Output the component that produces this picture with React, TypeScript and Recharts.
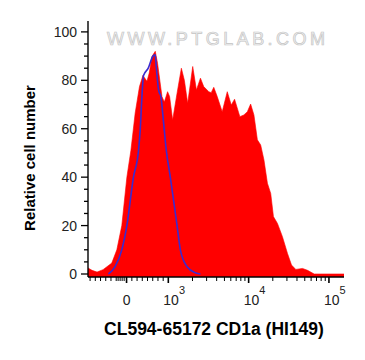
import React from 'react';
import { ComposedChart, Area, Line, XAxis, YAxis, Customized } from 'recharts';

// x values are in display (biexponential) units: 3 = 10^3, 4 = 10^4, 5 = 10^5
const RED_X = [2.0, 2.05, 2.1125, 2.1875, 2.296, 2.359, 2.421, 2.484, 2.534, 2.5875, 2.641, 2.684, 2.734, 2.7625, 2.796, 2.8375, 2.866, 2.921, 2.95, 2.991, 3.016, 3.054, 3.109, 3.1625, 3.2, 3.241, 3.304, 3.35, 3.4, 3.441, 3.504, 3.534, 3.566, 3.609, 3.671, 3.734, 3.784, 3.825, 3.891, 3.941, 3.984, 4.025, 4.066, 4.109, 4.15, 4.191, 4.234, 4.275, 4.309, 4.359, 4.421, 4.484, 4.534, 4.5875, 4.671, 4.734, 4.816, 4.9, 5.1875];
const RED_Y = [2.5, 1.5, 0.8, 1.8, 4.5, 10, 20, 40, 51, 66.5, 77.4, 82, 79.6, 83, 89.8, 92, 87, 73.3, 71, 75.3, 73.3, 63.6, 74.7, 85, 80, 70.5, 85.7, 76, 80.9, 77.4, 75.3, 74.9, 77.1, 73.3, 67, 75.3, 69.8, 72.2, 65, 65.7, 67, 70.2, 65.7, 55.4, 53.3, 47.1, 37.5, 33.3, 23.7, 20.9, 15.4, 8.5, 3.7, 1.9, 2.3, 1.5, 0, 0, 0];

const BLUE_X = [2.254, 2.3375, 2.421, 2.484, 2.566, 2.629, 2.65, 2.671, 2.691, 2.75, 2.809, 2.8375, 2.85, 2.879, 2.909, 2.934, 2.975, 3.025, 3.109, 3.15, 3.234, 3.3375, 3.4];
const BLUE_Y = [0, 3, 10, 20, 40, 51, 59.5, 73, 82, 85, 90, 90.5, 85.5, 76, 73, 65, 51, 40, 20, 10, 3, 0.5, 0];

const X_MIN = 2.0;
const X_MAX = 5.1875;
const Y_MIN = -1.24;
const Y_MAX = 104.5;

const Y_MAJOR = [0, 20, 40, 60, 80, 100];
const Y_MINOR = [5, 10, 15, 25, 30, 35, 45, 50, 55, 65, 70, 75, 85, 90, 95];

const X_MAJOR = [2.48, 3, 4, 5];
const X_MAJOR_LABELS = ['0', '10', '10', '10'];
const X_MAJOR_EXP = ['', '3', '4', '5'];
const X_MINOR = [2.026, 2.091, 2.156, 2.221, 2.286, 2.351, 2.375, 2.4, 2.425, 2.45, 2.546, 2.611, 2.676, 2.741, 2.806, 2.871, 2.936,
  3.301, 3.477, 3.602, 3.699, 3.778, 3.845, 3.903, 3.954,
  4.301, 4.477, 4.602, 4.699, 4.778, 4.845, 4.903, 4.954];

const X_TITLE = 'CL594-65172 CD1a (HI149)';
const Y_TITLE = 'Relative cell number';
const WATERMARK = 'WWW.PTGLAB.COM';

const rowMap = new Map<number, any>();
RED_X.forEach((x, i) => {
  const r = rowMap.get(x) || { x };
  r.red = RED_Y[i];
  rowMap.set(x, r);
});
BLUE_X.forEach((x, i) => {
  const r = rowMap.get(x) || { x };
  r.blue = BLUE_Y[i];
  rowMap.set(x, r);
});
const DATA = Array.from(rowMap.values()).sort((a, b) => a.x - b.x);

const FONT = '"Liberation Sans", Arial, sans-serif';

const XTick = (props: any) => {
  const { x, y, payload } = props;
  const v = payload.value;
  const mi = X_MAJOR.indexOf(v);
  if (mi < 0) {
    return <line x1={x} y1={y} x2={x} y2={y + 4} stroke="#000" strokeWidth={1} />;
  }
  return (
    <g>
      <line x1={x} y1={y} x2={x} y2={y + 6} stroke="#000" strokeWidth={1.6} />
      {mi === 0 ? (
        <text x={x} y={y + 28} textAnchor="middle" fontSize={14} fill="#222" fontFamily={FONT}>
          {X_MAJOR_LABELS[mi]}
        </text>
      ) : (
        <text x={x - 5} y={y + 28} textAnchor="start" fontSize={14} fill="#222" fontFamily={FONT}>
          {X_MAJOR_LABELS[mi]}
          <tspan dy={-11.5} fontSize={11}>{X_MAJOR_EXP[mi]}</tspan>
        </text>
      )}
    </g>
  );
};

const YTick = (props: any) => {
  const { x, y, payload } = props;
  const v = payload.value;
  const major = Y_MAJOR.indexOf(v) >= 0;
  return (
    <g>
      <line x1={x - (major ? 7 : 4)} y1={y} x2={x} y2={y} stroke="#000" strokeWidth={1.3} />
      {major && (
        <text x={x - 11} y={y} dy={5} textAnchor="end" fontSize={14} fill="#222" fontFamily={FONT}>
          {v}
        </text>
      )}
    </g>
  );
};

const Overlay = () => (
  <g fontFamily={FONT}>
    <text
      x={216}
      y={45}
      textAnchor="middle"
      fontSize={18}
      textLength={218}
      lengthAdjust="spacing"
      fill="#f3f3f3"
      stroke="#c4c4c4"
      strokeWidth={0.7}
    >
      {WATERMARK}
    </text>
    <text x={214} y={335} textAnchor="middle" fontSize={17.5} fontWeight="bold" fill="#000">
      {X_TITLE}
    </text>
    <text
      x={35}
      y={158}
      transform="rotate(-90 35 158)"
      textAnchor="middle"
      fontSize={15}
      fontWeight="bold"
      fill="#000"
    >
      {Y_TITLE}
    </text>
  </g>
);

export default function App() {
  return (
    <div style={{ position: 'absolute', left: 0, top: 0, background: '#fff' }}>
      <ComposedChart
        width={365}
        height={360}
        data={DATA}
        margin={{ top: 21, right: 21, bottom: 53, left: 0 }}
        style={{ fontFamily: FONT }}
      >
        <XAxis
          type="number"
          dataKey="x"
          domain={[X_MIN, X_MAX]}
          allowDataOverflow
          ticks={[...X_MINOR, ...X_MAJOR]}
          interval={0}
          tick={<XTick />}
          tickLine={false}
          tickSize={0}
          tickMargin={0}
          height={30}
          axisLine={{ stroke: '#000', strokeWidth: 1.4 }}
        />
        <XAxis
          xAxisId="top"
          orientation="top"
          type="number"
          dataKey="x"
          domain={[X_MIN, X_MAX]}
          allowDataOverflow
          tick={false}
          tickLine={false}
          height={0}
          axisLine={{ stroke: '#000', strokeWidth: 1.2 }}
        />
        <YAxis
          type="number"
          domain={[Y_MIN, Y_MAX]}
          allowDataOverflow
          ticks={[...Y_MINOR, ...Y_MAJOR]}
          interval={0}
          tick={<YTick />}
          tickLine={false}
          tickSize={0}
          tickMargin={0}
          width={88}
          axisLine={{ stroke: '#000', strokeWidth: 1.4 }}
        />
        <YAxis
          yAxisId="right"
          orientation="right"
          type="number"
          domain={[Y_MIN, Y_MAX]}
          allowDataOverflow
          tick={false}
          tickLine={false}
          width={0}
          axisLine={{ stroke: '#000', strokeWidth: 1.2 }}
        />
        <Area
          type="linear"
          dataKey="red"
          fill="#ff0000"
          fillOpacity={1}
          stroke="#ff0000"
          strokeWidth={0.6}
          baseValue={Y_MIN}
          connectNulls
          dot={false}
          activeDot={false}
          isAnimationActive={false}
        />
        <Line
          type="monotone"
          dataKey="blue"
          stroke="#3a2bd0"
          strokeWidth={1.6}
          connectNulls
          dot={false}
          activeDot={false}
          isAnimationActive={false}
        />
        <Customized component={Overlay} />
      </ComposedChart>
    </div>
  );
}
